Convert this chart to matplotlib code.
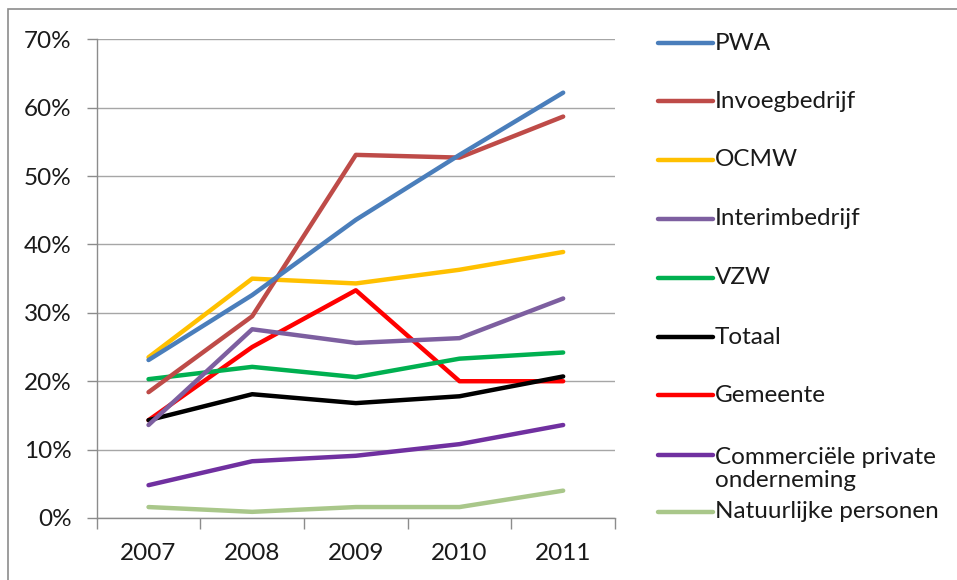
import numpy as np
import matplotlib
matplotlib.use("Agg")
import matplotlib.pyplot as plt
from matplotlib.lines import Line2D
from matplotlib.patches import Rectangle
from matplotlib.ticker import PercentFormatter

plt.rcParams['font.family'] = ['Lato', 'DejaVu Sans']

# Data (share, %)
years = ['2007', '2008', '2009', '2010', '2011']
pwa = [23.1, 32.6, 43.6, 53.1, 62.2]
invoeg = [18.4, 29.5, 53.1, 52.7, 58.7]
ocmw = [23.5, 35.0, 34.3, 36.3, 38.9]
interim = [13.6, 27.6, 25.6, 26.3, 32.1]
vzw = [20.3, 22.1, 20.6, 23.3, 24.2]
totaal = [14.3, 18.1, 16.8, 17.8, 20.7]
gemeente = [14.3, 25.0, 33.3, 20.0, 20.0]
commercieel = [4.8, 8.3, 9.1, 10.8, 13.6]
natuurlijk = [1.6, 0.9, 1.6, 1.6, 4.0]

labels = ['PWA', 'Invoegbedrijf', 'OCMW', 'Interimbedrijf', 'VZW', 'Totaal',
          'Gemeente', 'Commerciële private\nonderneming', 'Natuurlijke personen']
series = [pwa, invoeg, ocmw, interim, vzw, totaal, gemeente, commercieel, natuurlijk]
colors = ['#4A7EBB', '#BE4B48', '#FFC000', '#7D5FA0', '#00B050', '#000000',
          '#FF0000', '#7030A0', '#A9C78A']

W, H = 957, 580
fig = plt.figure(figsize=(W / 100, H / 100), dpi=100)
ax = fig.add_axes([96.7 / W, 62 / H, (615 - 96.7) / W, (518 - 39.3) / H])

# outer chart frame
fig.add_artist(Rectangle((8 / W, -0.1), 1.2, 1.1 - 9 / H, transform=fig.transFigure,
                         fill=False, edgecolor='#8C8C8C', linewidth=1.2, clip_on=False))

x = np.arange(len(years))
# draw in reverse so the top legend entries sit on top
for vals, c in list(zip(series, colors))[::-1]:
    ax.plot(x, vals, color=c, linewidth=3.2, solid_capstyle='round', solid_joinstyle='round')

ax.set_xlim(-0.5, 4.5)
ax.set_ylim(0, 70)
ax.set_yticks(np.arange(0, 71, 10))
ax.yaxis.set_major_formatter(PercentFormatter(decimals=0))
ax.set_xticks(x)
ax.set_xticklabels(years)
ax.set_xticks(np.arange(-0.5, 4.6, 1), minor=True)
ax.grid(axis='y', color='#A6A6A6', linewidth=1.0)
ax.set_axisbelow(True)
for s in ['top', 'right']:
    ax.spines[s].set_visible(False)
for s in ['left', 'bottom']:
    ax.spines[s].set_color('#8C8C8C')
    ax.spines[s].set_linewidth(1.0)
ax.tick_params(axis='x', which='major', length=0, pad=18, labelsize=17.5)
ax.tick_params(axis='x', which='minor', length=8, color='#8C8C8C', width=1.0)
ax.tick_params(axis='y', length=7, color='#8C8C8C', width=1.0, pad=11, labelsize=17.5)
ax.tick_params(axis='both', labelcolor='#1A1A1A')

# legend, drawn by hand to keep Excel-like spacing
leg_y = [43, 101, 160, 219, 278, 337, 395, 469, 512]
for lab, c, yp in zip(labels, colors, leg_y):
    fy = 1 - yp / H
    ly = fy if '\n' not in lab else 1 - 455 / H
    fig.add_artist(Line2D([658 / W, 713 / W], [ly, ly], color=c, linewidth=3.2,
                          solid_capstyle='round', transform=fig.transFigure))
    fig.text(715 / W, fy, lab, fontsize=17.5, va='center', ha='left',
             color='#1A1A1A', linespacing=1.12)

fig.savefig('out.png', dpi=100)
